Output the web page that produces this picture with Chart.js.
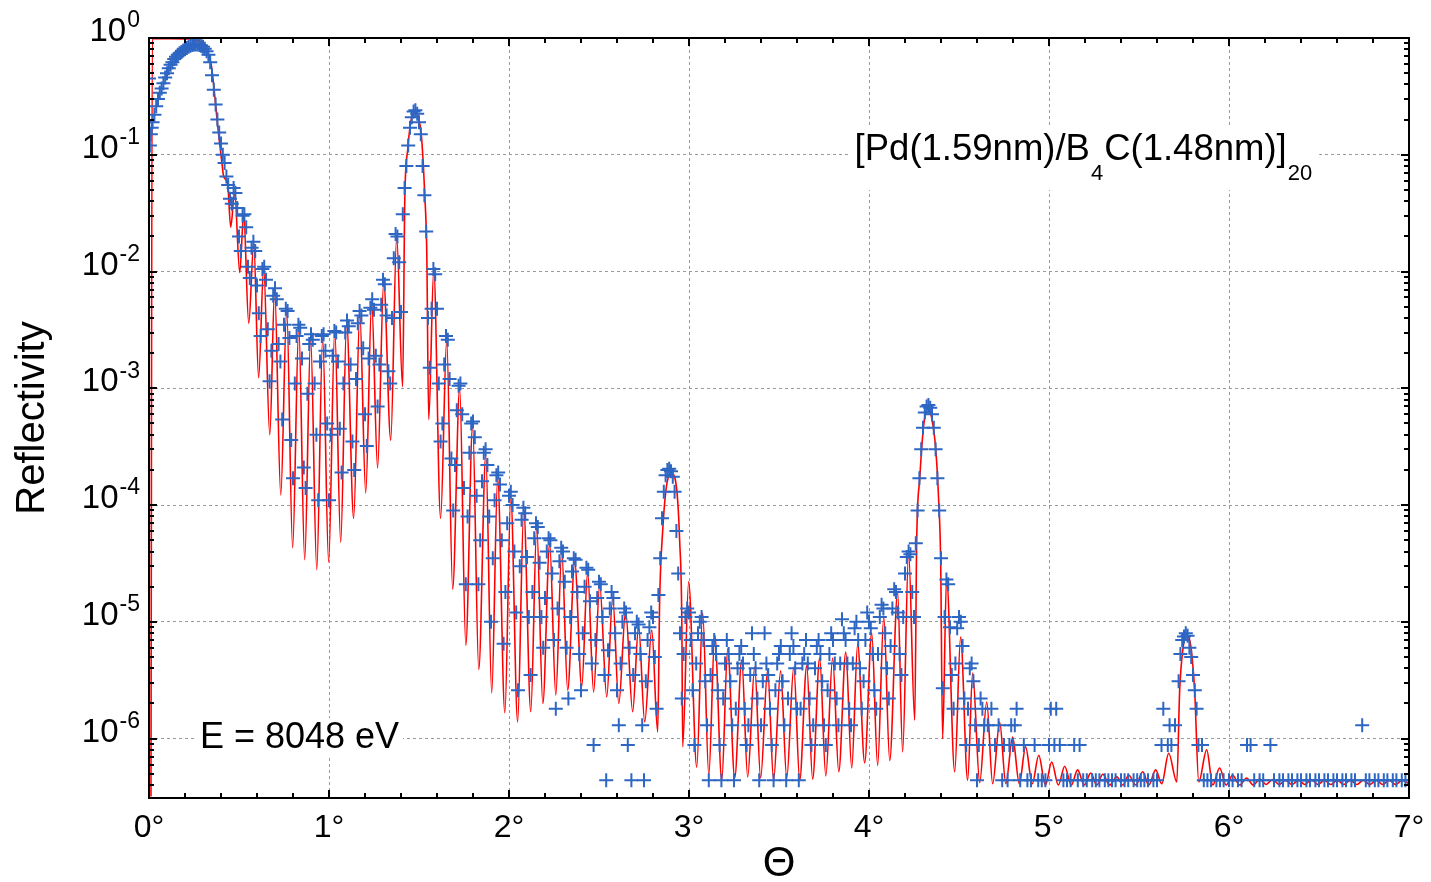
<!DOCTYPE html>
<html>
<head>
<meta charset="utf-8">
<title>Pd/B4C multilayer reflectivity</title>
<script src="https://cdn.jsdelivr.net/npm/chart.js@4.4.0/dist/chart.umd.min.js"></script>
<style>
  html, body { margin: 0; padding: 0; background: #fff; }
  #wrap { width: 1431px; height: 882px; position: relative; }
</style>
</head>
<body>
<div id="wrap"><canvas id="xrrChart"></canvas></div>
<script>
// simulated curve (red line), extrema of the fringes
const simTheta = [
  0.011, 0.018, 0.115, 0.224, 0.282, 0.309, 0.332, 0.348, 0.359, 0.370, 0.381, 0.392, 0.403,
  0.415, 0.437, 0.454, 0.476, 0.504, 0.526, 0.554, 0.582, 0.609, 0.637, 0.671, 0.698, 0.732, 0.765,
  0.798, 0.832, 0.865, 0.898, 0.932, 0.965, 0.998, 1.032, 1.065, 1.098, 1.137, 1.171, 1.204, 1.237,
  1.270, 1.304, 1.343, 1.376, 1.409, 1.421, 1.437, 1.459, 1.482, 1.498, 1.515, 1.532, 1.543, 1.554,
  1.582, 1.620, 1.654, 1.687, 1.726, 1.760, 1.798, 1.832, 1.871, 1.904, 1.937, 1.977, 2.010, 2.048,
  2.082, 2.121, 2.154, 2.188, 2.226, 2.260, 2.293, 2.326, 2.365, 2.404, 2.437, 2.470, 2.504, 2.543,
  2.576, 2.610, 2.648, 2.687, 2.720, 2.754, 2.793, 2.826, 2.837, 2.854, 2.876, 2.904, 2.932, 2.948,
  2.960, 2.965, 2.998, 3.043, 3.076, 3.110, 3.143, 3.182, 3.215, 3.254, 3.293, 3.326, 3.365, 3.398,
  3.437, 3.470, 3.509, 3.543, 3.582, 3.615, 3.654, 3.687, 3.726, 3.760, 3.798, 3.832, 3.871, 3.904,
  3.937, 3.976, 4.015, 4.048, 4.082, 4.115, 4.159, 4.187, 4.220, 4.254, 4.265, 4.282, 4.304, 4.326,
  4.348, 4.371, 4.387, 4.398, 4.409, 4.431, 4.476, 4.509, 4.548, 4.576, 4.615, 4.654, 4.687, 4.726,
  4.760, 4.798, 4.835, 4.870, 4.907, 4.943, 4.980, 5.015, 5.052, 5.087, 5.124, 5.159, 5.196, 5.232,
  5.265, 5.299, 5.337, 5.377, 5.410, 5.443, 5.482, 5.521, 5.554, 5.593, 5.626, 5.665, 5.710, 5.726,
  5.743, 5.765, 5.787, 5.809, 5.832, 5.876, 5.910, 5.948, 5.984, 6.020, 6.059, 6.098, 6.135, 6.170,
  6.206, 6.242, 6.278, 6.314, 6.350, 6.386, 6.422, 6.458, 6.494, 6.530, 6.566, 6.602, 6.638, 6.674,
  6.710, 6.746, 6.782, 6.818, 6.854, 6.890, 6.926, 6.962, 7.000
];
const simR = [
  3.2e-7, 0.985, 0.985, 0.98, 0.93, 0.84, 0.72, 0.56, 0.40, 0.27, 0.18, 0.127, 0.091,
  0.065, 0.056, 0.024, 0.048, 0.0098, 0.031, 0.0036, 0.0176, 0.00123, 0.0108, 4.0e-4, 0.0070, 1.22e-4, 0.0047,
  4.3e-5, 0.00336, 3.4e-5, 0.0027, 2.8e-5, 0.0027, 3.25e-5, 0.00317, 4.8e-5, 0.0037, 7.7e-5, 0.0044, 1.27e-4, 0.0055,
  2.08e-4, 0.0082, 3.6e-4, 0.0198, 0.00103, 0.041, 0.11, 0.207, 0.233, 0.207, 0.135, 0.045, 0.0153, 5.4e-4,
  0.0104, 7.7e-5, 0.0026, 1.9e-5, 0.00101, 6.3e-6, 4.85e-4, 3.9e-6, 2.7e-4, 2.46e-6, 1.7e-4, 1.66e-6, 1.17e-4, 1.39e-6,
  9.1e-5, 1.7e-6, 6.5e-5, 2.0e-6, 4.7e-5, 2.37e-6, 4.0e-5, 2.6e-6, 3.25e-5, 2.77e-6, 2.67e-5, 2.5e-6, 2.07e-5, 2.27e-6,
  1.63e-5, 2.0e-6, 1.24e-5, 1.7e-6, 9.2e-6, 1.39e-6, 8.5e-6, 1.14e-6, 1.54e-5, 6.1e-5, 1.49e-4, 1.85e-4, 1.35e-4, 5.0e-5,
  1.04e-5, 8.5e-7, 2.2e-5, 5.7e-7, 1.19e-5, 4.9e-7, 7.7e-6, 4.4e-7, 5.85e-6, 4.6e-7, 4.7e-6, 4.7e-7, 4.1e-6, 4.6e-7,
  3.86e-6, 4.4e-7, 3.8e-6, 4.6e-7, 4.1e-6, 4.4e-7, 4.2e-6, 4.5e-7, 4.9e-6, 4.8e-7, 4.9e-6, 5.2e-7, 5.5e-6, 5.6e-7,
  6.45e-6, 6.2e-7, 8.0e-6, 5.9e-7, 1.1e-5, 6.5e-7, 1.8e-5, 7.7e-7, 3.9e-5, 1.44e-6, 5.0e-5, 1.7e-4, 4.85e-4, 6.7e-4,
  5.6e-4, 2.97e-4, 1.1e-4, 3.4e-5, 1.0e-6, 2.4e-5, 5.2e-7, 7.4e-6, 4.4e-7, 3.64e-6, 4.2e-7, 2.06e-6, 4.1e-7, 1.38e-6,
  4.1e-7, 1.03e-6, 4.1e-7, 8.5e-7, 4.1e-7, 7.2e-7, 4.0e-7, 6.3e-7, 4.0e-7, 5.8e-7, 4.0e-7, 5.4e-7, 4.0e-7, 5.06e-7,
  4.0e-7, 4.95e-7, 4.0e-7, 4.7e-7, 4.0e-7, 4.85e-7, 4.0e-7, 5.2e-7, 4.0e-7, 5.4e-7, 4.1e-7, 7.5e-7, 4.25e-7, 2.6e-6,
  5.7e-6, 7.6e-6, 6.3e-6, 2.6e-6, 4.25e-7, 8.0e-7, 4.0e-7, 5.6e-7, 4.0e-7, 4.85e-7, 4.0e-7, 4.6e-7, 4.0e-7, 4.5e-7,
  4.05e-7, 4.45e-7, 4.05e-7, 4.4e-7, 4.05e-7, 4.4e-7, 4.05e-7, 4.45e-7, 4.05e-7, 4.4e-7, 4.05e-7, 4.4e-7, 4.05e-7, 4.4e-7,
  4.05e-7, 4.4e-7, 4.05e-7, 4.4e-7, 4.05e-7, 4.4e-7, 4.05e-7, 4.4e-7, 4.1e-7
];

// measured points (blue crosses)
const measTheta = [
  0, 0.005, 0.01, 0.015, 0.02, 0.03, 0.04, 0.05, 0.06, 0.07, 0.08, 0.09,
  0.10, 0.11, 0.12, 0.13, 0.14, 0.15, 0.16, 0.17, 0.18, 0.19,
  0.20, 0.21, 0.22, 0.23, 0.24, 0.25, 0.26, 0.27, 0.28, 0.29,
  0.30, 0.31, 0.32, 0.33, 0.34, 0.35, 0.36, 0.37, 0.38, 0.39, 0.40, 0.41,
  0.42, 0.43, 0.44, 0.45, 0.46, 0.47, 0.48, 0.49,
  0.50, 0.51, 0.52, 0.53, 0.54, 0.55, 0.56, 0.57, 0.58, 0.59,
  0.60, 0.61, 0.62, 0.63, 0.64, 0.65, 0.66, 0.67, 0.68, 0.69,
  0.70, 0.71, 0.72, 0.73, 0.74, 0.75, 0.76, 0.77, 0.78, 0.79,
  0.80, 0.81, 0.82, 0.83, 0.84, 0.85, 0.86, 0.87, 0.88, 0.89,
  0.90, 0.91, 0.92, 0.93, 0.94, 0.95, 0.96, 0.97, 0.98, 0.99,
  1.00, 1.01, 1.02, 1.03, 1.04, 1.05, 1.06, 1.07, 1.08, 1.09,
  1.10, 1.11, 1.12, 1.13, 1.14, 1.15, 1.16, 1.17, 1.18, 1.19,
  1.20, 1.21, 1.22, 1.23, 1.24, 1.25, 1.26, 1.27, 1.28, 1.29,
  1.30, 1.31, 1.32, 1.33, 1.34, 1.35, 1.36, 1.37, 1.38, 1.39,
  1.40, 1.41, 1.42, 1.43, 1.44, 1.45, 1.46, 1.47, 1.48, 1.49,
  1.50, 1.51, 1.52, 1.53, 1.54, 1.55, 1.56, 1.57, 1.58, 1.59,
  1.60, 1.61, 1.62, 1.63, 1.64, 1.65, 1.66, 1.67, 1.68, 1.69,
  1.70, 1.71, 1.72, 1.73, 1.74, 1.75, 1.76, 1.77, 1.78, 1.79,
  1.80, 1.81, 1.82, 1.83, 1.84, 1.85, 1.86, 1.87, 1.88, 1.89,
  1.90, 1.91, 1.92, 1.93, 1.94, 1.95, 1.96, 1.97, 1.98, 1.99,
  2.00, 2.01, 2.02, 2.03, 2.04, 2.05, 2.06, 2.07, 2.08, 2.09,
  2.10, 2.11, 2.12, 2.13, 2.14, 2.15, 2.16, 2.17, 2.18, 2.19,
  2.20, 2.21, 2.22, 2.23, 2.24, 2.25, 2.26, 2.27, 2.28, 2.29,
  2.30, 2.31, 2.32, 2.33, 2.34, 2.35, 2.36, 2.37, 2.38, 2.39,
  2.40, 2.41, 2.42, 2.43, 2.44, 2.45, 2.46, 2.47, 2.48, 2.49,
  2.50, 2.51, 2.52, 2.53, 2.54, 2.55, 2.56, 2.57, 2.58, 2.59,
  2.60, 2.61, 2.62, 2.63, 2.64, 2.65, 2.66, 2.67, 2.68, 2.69,
  2.70, 2.71, 2.72, 2.73, 2.74, 2.75, 2.76, 2.77, 2.78, 2.79,
  2.80, 2.81, 2.82, 2.83, 2.84, 2.85, 2.86, 2.87, 2.88, 2.89,
  2.90, 2.91, 2.92, 2.93, 2.94, 2.95, 2.96, 2.97, 2.98, 2.99,
  3.00, 3.01, 3.02, 3.03, 3.04, 3.05, 3.06, 3.07, 3.08, 3.09,
  3.10, 3.11, 3.12, 3.13, 3.14, 3.15, 3.16, 3.17, 3.18, 3.19,
  3.20, 3.21, 3.22, 3.23, 3.24, 3.25, 3.26, 3.27, 3.28, 3.29,
  3.30, 3.31, 3.32, 3.33, 3.34, 3.35, 3.36, 3.37, 3.38, 3.39,
  3.40, 3.41, 3.42, 3.43, 3.44, 3.45, 3.46, 3.47, 3.48, 3.49,
  3.50, 3.51, 3.52, 3.53, 3.54, 3.55, 3.56, 3.57, 3.58, 3.59,
  3.60, 3.61, 3.62, 3.63, 3.64, 3.65, 3.66, 3.67, 3.68, 3.69,
  3.70, 3.71, 3.72, 3.73, 3.74, 3.75, 3.76, 3.77, 3.78, 3.79,
  3.80, 3.81, 3.82, 3.83, 3.84, 3.85, 3.86, 3.87, 3.88, 3.89,
  3.90, 3.91, 3.92, 3.93, 3.94, 3.95, 3.96, 3.97, 3.98, 3.99,
  4.00, 4.01, 4.02, 4.03, 4.04, 4.05, 4.06, 4.07, 4.08, 4.09,
  4.10, 4.11, 4.12, 4.13, 4.14, 4.15, 4.16, 4.17, 4.18, 4.19,
  4.20, 4.21, 4.22, 4.23, 4.24, 4.25, 4.26, 4.27, 4.28, 4.29,
  4.30, 4.31, 4.32, 4.33, 4.34, 4.35, 4.36, 4.37, 4.38, 4.39,
  4.40, 4.41, 4.42, 4.43, 4.44, 4.45, 4.46, 4.47, 4.48, 4.49,
  4.50, 4.51, 4.52, 4.53, 4.54, 4.55, 4.56, 4.57, 4.58, 4.59,
  4.60, 4.61, 4.62, 4.63, 4.64,
  4.66, 4.68, 4.70, 4.72, 4.74, 4.75, 4.77, 4.78, 4.79, 4.80, 4.81, 4.82, 4.84, 4.86, 4.88,
  4.90, 4.92, 4.94, 4.96, 4.98, 5.00, 5.01, 5.03, 5.04, 5.06, 5.08, 5.10, 5.12, 5.14, 5.16,
  5.17, 5.19, 5.21, 5.24, 5.26, 5.28, 5.31, 5.33, 5.35, 5.37, 5.40, 5.42, 5.44, 5.47, 5.49,
  5.51, 5.53, 5.55, 5.58, 5.60, 5.625, 5.635, 5.66, 5.67, 5.68, 5.70, 5.72, 5.73, 5.74, 5.75,
  5.76, 5.77, 5.78, 5.79, 5.80, 5.81, 5.82, 5.83, 5.85, 5.86, 5.88, 5.90, 5.93, 5.95, 5.97,
  6.00, 6.02, 6.05, 6.07, 6.10, 6.12, 6.14, 6.17, 6.19, 6.23, 6.25, 6.28, 6.30, 6.33, 6.35,
  6.38, 6.40, 6.43, 6.45, 6.48, 6.50, 6.53, 6.55, 6.58, 6.60, 6.63, 6.65, 6.68, 6.70, 6.74,
  6.76, 6.78, 6.81, 6.83, 6.86, 6.88, 6.91, 6.93, 6.96, 6.98, 7.00
];
const measR = [
  0.45, 0.12, 0.15, 0.17, 0.19, 0.22, 0.26, 0.30, 0.34, 0.37, 0.41, 0.46,
  0.50, 0.55, 0.59, 0.62, 0.66, 0.69, 0.72, 0.74, 0.76, 0.78,
  0.80, 0.82, 0.84, 0.86, 0.87, 0.88, 0.88, 0.88, 0.87, 0.86,
  0.84, 0.81, 0.77, 0.72, 0.62, 0.48, 0.36, 0.27, 0.20, 0.155, 0.125, 0.10,
  0.085, 0.065, 0.055, 0.042, 0.038, 0.052, 0.047, 0.035,
  0.020, 0.015, 0.030, 0.031, 0.024, 0.011, 0.0088, 0.016, 0.018, 0.015,
  0.0076, 0.0044, 0.0028, 0.0105, 0.011, 0.0085, 0.0032, 0.00115, 0.0021, 0.0062,
  0.0072, 0.0058, 0.0024, 0.0017, 5.4e-4, 0.0035, 0.0048, 0.0046, 0.0027, 3.6e-4,
  1.7e-4, 0.0011, 0.0028, 0.0035, 0.0033, 0.0018, 2.1e-4, 1.4e-4, 9e-4, 0.0024,
  0.0029, 0.0026, 0.0011, 4e-4, 1.1e-4, 0.0017, 0.0028, 0.0029, 0.0021, 5e-4,
  1.1e-4, 4e-4, 0.0019, 0.0031, 0.0030, 0.0017, 4.5e-4, 1.9e-4, 0.0011, 0.0030,
  0.0038, 0.0034, 0.0016, 3.5e-4, 2.0e-4, 0.0012, 0.0036, 0.0046, 0.0042, 0.0022,
  6e-4, 3.2e-4, 0.0018, 0.0049, 0.0058, 0.0047, 0.0019, 7e-4, 0.0016, 0.0052,
  0.0085, 0.0078, 0.0042, 0.0014, 0.0011, 0.0040, 0.013, 0.021, 0.020, 0.012,
  0.0045, 0.031, 0.052, 0.080, 0.12, 0.17, 0.21, 0.235, 0.24, 0.225,
  0.19, 0.15, 0.08, 0.045, 0.022, 0.004, 0.0015, 0.0048, 0.0105, 0.0095,
  0.0048, 0.0011, 3.5e-4, 5e-4, 0.0016, 0.0028, 0.0026, 0.0012, 2.5e-4, 9e-5,
  2.2e-4, 6.5e-4, 0.00105, 0.0011, 6e-4, 1.4e-4, 2.1e-5, 8e-5, 2.8e-4, 5e-4,
  5.2e-4, 3.8e-4, 1.2e-4, 2.1e-5, 5e-5, 1.6e-4, 2.8e-4, 3e-4, 2.2e-4, 8e-5,
  1.0e-5, 3.5e-5, 1.1e-4, 1.8e-4, 1.9e-4, 1.5e-4, 5e-5, 6.5e-6, 1.8e-5, 7e-5,
  1.2e-4, 1.3e-4, 1.0e-4, 4e-5, 1.2e-5, 2.6e-6, 3e-5, 7.5e-5, 9.5e-5, 8.5e-5,
  3.6e-5, 1.1e-5, 3.5e-6, 1.8e-5, 5.2e-5, 7e-5, 6.5e-5, 3.2e-5, 1.1e-5, 6e-6,
  1.6e-5, 4e-5, 5.2e-5, 5e-5, 2.6e-5, 7e-6, 1.8e-6, 1.3e-5, 3.3e-5, 4.3e-5,
  4e-5, 2.2e-5, 6e-6, 2.2e-6, 1.1e-5, 2.7e-5, 3.5e-5, 3.4e-5, 1.8e-5, 5.3e-6,
  2.6e-6, 8e-6, 2.0e-5, 2.9e-5, 2.8e-5, 1.5e-5, 4.4e-6, 8.8e-7, 7e-6, 1.6e-5,
  2.2e-5, 2.1e-5, 1.1e-5, 3.5e-6, 4.4e-7, 5.7e-6, 1.3e-5, 1.8e-5, 1.6e-5, 8e-6,
  2.6e-6, 1.3e-6, 4.4e-6, 1.0e-5, 1.3e-5, 1.2e-5, 8.8e-7, 6e-6, 4.4e-7, 3.5e-6,
  8e-6, 1.0e-5, 9.5e-6, 5.3e-6, 1.3e-6, 4.4e-7, 3.1e-6, 7e-6, 9e-6, 1.2e-5,
  1.1e-5, 5e-6, 1.8e-6, 1.7e-5, 3.5e-5, 7.7e-5, 1.3e-4, 1.8e-4, 2.0e-4, 2.05e-4,
  1.95e-4, 1.75e-4, 1.3e-4, 6e-5, 2.6e-5, 8e-6, 2.2e-6, 5.3e-6, 1.1e-5, 1.3e-5,
  1.2e-5, 7e-6, 2.6e-6, 8.8e-7, 4.4e-6, 8e-6, 1.0e-5, 1.1e-5, 7e-6, 3.1e-6,
  1.3e-6, 4.4e-7, 3.5e-6, 6.2e-6, 7e-6, 5.3e-6, 2.6e-6, 8.8e-7, 4.4e-7, 2.2e-6,
  4.4e-6, 7e-6, 5.3e-6, 3.1e-6, 1.3e-6, 4.4e-7, 1.8e-6, 4.0e-6, 5.3e-6, 6.2e-6,
  4.4e-6, 1.8e-6, 8.8e-7, 1.3e-6, 3.5e-6, 8e-6, 5.3e-6, 4.0e-6, 2.2e-6, 4.4e-7,
  1.3e-6, 3.1e-6, 8e-6, 4.4e-6, 3.5e-6, 1.8e-6, 8.8e-7, 4.4e-7, 2.6e-6, 4.4e-6,
  5.3e-6, 6.2e-6, 3.1e-6, 1.3e-6, 4.4e-7, 2.2e-6, 5.3e-6, 8e-6, 6.2e-6, 4.0e-6,
  1.8e-6, 4.4e-7, 1.8e-6, 4.4e-6, 5.3e-6, 7e-6, 4.4e-6, 2.2e-6, 8.8e-7, 1.3e-6,
  4.0e-6, 6.2e-6, 7e-6, 5.3e-6, 3.1e-6, 1.3e-6, 8.8e-7, 2.6e-6, 5.3e-6, 8e-6,
  7e-6, 4.4e-6, 2.2e-6, 1.3e-6, 4.4e-6, 1.05e-5, 8e-6, 7e-6, 4.4e-6, 1.8e-6,
  1.3e-6, 4.4e-6, 8.8e-6, 1.0e-5, 7e-6, 4.0e-6, 1.8e-6, 3.1e-6, 7e-6, 1.2e-5,
  1.0e-5, 8.8e-6, 5.3e-6, 2.6e-6, 1.8e-6, 5.3e-6, 1.1e-5, 1.4e-5, 1.3e-5, 8e-6,
  4.0e-6, 2.2e-6, 6.2e-6, 1.3e-5, 1.9e-5, 1.8e-5, 1.2e-5, 5.3e-6, 3.5e-6, 1.1e-5,
  2.6e-5, 3.6e-5, 4.0e-5, 3.8e-5, 1.8e-5, 1.1e-5, 4.7e-5, 9e-5, 1.7e-4, 3.0e-4,
  4.6e-4, 6.2e-4, 7.0e-4, 7.2e-4, 6.8e-4, 6.0e-4, 4.6e-4, 3.0e-4, 1.7e-4, 9e-5,
  3.5e-5, 2.7e-6, 1.1e-5, 2.3e-5, 2.1e-5, 9e-6, 3.5e-6, 1.8e-6, 4.4e-6, 8.8e-6,
  1.1e-5, 1.0e-5, 6.2e-6, 2.2e-6, 8.8e-7, 1.8e-6, 4.0e-6, 4.4e-6, 3.1e-6, 1.3e-6,
  4.4e-7, 8.8e-7, 2.2e-6, 1.8e-6, 1.3e-6,
  1.3e-6, 1.8e-6, 8.8e-7, 1.3e-6, 4.4e-7, 8.8e-7, 4.4e-7, 8.8e-7, 1.3e-6, 8.8e-7, 1.3e-6, 1.8e-6, 4.4e-7, 8.8e-7, 4.4e-7,
  4.4e-7, 8.8e-7, 4.4e-7, 4.4e-7, 4.4e-7, 8.8e-7, 1.8e-6, 8.8e-7, 1.8e-6, 8.8e-7, 4.4e-7, 4.4e-7, 4.4e-7, 8.8e-7, 4.4e-7,
  8.8e-7, 4.4e-7, 4.4e-7, 4.4e-7, 4.4e-7, 4.4e-7, 4.4e-7, 4.4e-7, 4.4e-7, 4.4e-7, 4.4e-7, 4.4e-7, 4.4e-7, 4.4e-7, 4.4e-7,
  4.4e-7, 4.4e-7, 4.4e-7, 4.4e-7, 4.4e-7, 8.8e-7, 1.8e-6, 8.8e-7, 1.3e-6, 8.8e-7, 1.3e-6, 3.1e-6, 5.3e-6, 7e-6, 7.5e-6,
  8e-6, 7.6e-6, 6e-6, 5e-6, 3.5e-6, 2.6e-6, 1.8e-6, 8.8e-7, 8.8e-7, 4.4e-7, 4.4e-7, 4.4e-7, 4.4e-7, 4.4e-7, 4.4e-7,
  4.4e-7, 4.4e-7, 4.4e-7, 4.4e-7, 8.8e-7, 8.8e-7, 4.4e-7, 4.4e-7, 4.4e-7, 8.8e-7, 4.4e-7, 4.4e-7, 4.4e-7, 4.4e-7, 4.4e-7,
  4.4e-7, 4.4e-7, 4.4e-7, 4.4e-7, 4.4e-7, 4.4e-7, 4.4e-7, 4.4e-7, 4.4e-7, 4.4e-7, 4.4e-7, 4.4e-7, 4.4e-7, 4.4e-7, 1.3e-6,
  4.4e-7, 4.4e-7, 4.4e-7, 4.4e-7, 4.4e-7, 4.4e-7, 4.4e-7, 4.4e-7, 4.4e-7, 4.4e-7, 4.4e-7
];

// axes
const yDecades = [1, 1e-1, 1e-2, 1e-3, 1e-4, 1e-5, 1e-6];
const yExponents = ['0', '-1', '-2', '-3', '-4', '-5', '-6'];
const xTickLabels = ['0°', '1°', '2°', '3°', '4°', '5°', '6°', '7°'];
const sampleLabel = ['[Pd(1.59nm)/B', '4', 'C(1.48nm)]', '20'];
const energyLabel = 'E = 8048 eV';

const FONT = "'Liberation Sans', Arial, sans-serif";
Chart.defaults.font.family = FONT;
Chart.defaults.color = '#000';

const simPoints = simTheta.map((t, i) => ({ x: t, y: simR[i] }));
const measPoints = measTheta.map((t, i) => ({ x: t, y: measR[i] }));

// frame, inward ticks, 10^n labels and the two text labels
const decorPlugin = {
  id: 'decor',
  beforeDatasetsDraw(chart) {
    const { ctx, scales: { x, y } } = chart;
    ctx.save();
    // sample label with white background
    let lx = x.getPixelForValue(3.92), ly = y.getPixelForValue(0.09);
    let w = 0;
    sampleLabel.forEach((s, i) => {
      ctx.font = (i % 2 ? 22 : 36.5) + 'px ' + FONT;
      w += ctx.measureText(s).width + (i % 2 ? 2 : 0);
    });
    ctx.fillStyle = '#fff';
    ctx.fillRect(lx - 6, ly - 34, w + 12, 64);
    ctx.fillStyle = '#000';
    ctx.textAlign = 'left';
    ctx.textBaseline = 'alphabetic';
    let cx = lx;
    sampleLabel.forEach((s, i) => {
      const sub = i % 2 === 1;
      ctx.font = (sub ? 22 : 36.5) + 'px ' + FONT;
      if (sub) cx += 1;
      ctx.fillText(s, cx, sub ? ly + 20 : ly);
      cx += ctx.measureText(s).width + (sub ? 1 : 0);
    });
    // energy label
    ctx.font = '36px ' + FONT;
    const ex = x.getPixelForValue(0.283), ey = y.getPixelForValue(8.3e-7);
    const ew = ctx.measureText(energyLabel).width;
    ctx.fillStyle = '#fff';
    ctx.fillRect(ex - 4, ey - 30, ew + 8, 38);
    ctx.fillStyle = '#000';
    ctx.fillText(energyLabel, ex, ey);
    ctx.restore();
  },
  afterDraw(chart) {
    const { ctx, chartArea: a, scales: { x, y } } = chart;
    ctx.save();
    ctx.strokeStyle = '#000';
    ctx.lineWidth = 2;
    ctx.beginPath();
    // x ticks every 0.2 deg
    for (let i = 0; i <= 35; i++) {
      const px = Math.round(x.getPixelForValue(i / 5));
      const len = i % 5 === 0 ? 8 : 5;
      ctx.moveTo(px, a.bottom); ctx.lineTo(px, a.bottom - len);
      ctx.moveTo(px, a.top); ctx.lineTo(px, a.top + len);
    }
    // log ticks
    for (let d = -7; d <= 0; d++) {
      for (let m = 1; m <= 9; m++) {
        const v = m * Math.pow(10, d);
        if (v < y.min || v > y.max) continue;
        const py = Math.round(y.getPixelForValue(v));
        const len = m === 1 ? 8 : 5;
        ctx.moveTo(a.left, py); ctx.lineTo(a.left + len, py);
        ctx.moveTo(a.right, py); ctx.lineTo(a.right - len, py);
      }
    }
    ctx.stroke();
    ctx.strokeRect(a.left, a.top, a.right - a.left, a.bottom - a.top);

    // y tick labels 10^n
    ctx.fillStyle = '#000';
    ctx.textBaseline = 'middle';
    const right = a.left - 9;
    yDecades.forEach((v, i) => {
      const py = y.getPixelForValue(v);
      ctx.font = '23px ' + FONT;
      const ew = ctx.measureText(yExponents[i]).width;
      ctx.textAlign = 'left';
      ctx.fillText(yExponents[i], right - ew, py - 17);
      ctx.font = '33px ' + FONT;
      ctx.textAlign = 'right';
      ctx.fillText('10', right - ew - 1, py - 6);
    });
    ctx.restore();
  }
};

const xrrChart = new Chart(document.getElementById('xrrChart'), {
  type: 'line',
  data: {
    datasets: [
      {
        label: 'measured',
        type: 'scatter',
        data: measPoints,
        pointStyle: 'cross',
        pointRadius: 7,
        pointBorderWidth: 2,
        borderColor: '#2d66c3',
        backgroundColor: '#2d66c3',
        showLine: false,
        order: 1
      },
      {
        label: 'fit',
        type: 'line',
        data: simPoints,
        borderColor: '#ff0000',
        borderWidth: 1.6,
        pointRadius: 0,
        cubicInterpolationMode: 'monotone',
        fill: false,
        order: 2
      }
    ]
  },
  options: {
    responsive: true,
    maintainAspectRatio: false,
    animation: false,
    events: [],
    layout: { padding: { left: 0, right: 22, top: 38, bottom: 0 } },
    plugins: {
      legend: { display: false },
      tooltip: { enabled: false }
    },
    scales: {
      x: {
        type: 'linear',
        min: 0,
        max: 7,
        afterFit: (s) => { s.height = 84; s.paddingLeft = 0; s.paddingRight = 0; },
        ticks: {
          stepSize: 1,
          autoSkip: false,
          maxRotation: 0,
          padding: 11,
          font: { size: 32 },
          color: '#000',
          callback: (v) => xTickLabels[v]
        },
        grid: { color: '#9a9a9a', lineWidth: 1, drawTicks: false },
        border: { display: false, dash: [3, 3] },
        title: {
          display: true,
          text: 'Θ',
          font: { size: 42, lineHeight: 1 },
          padding: { top: 0, bottom: -3 },
          color: '#000'
        }
      },
      y: {
        type: 'logarithmic',
        min: 3.1e-7,
        max: 1,
        afterFit: (s) => { s.width = 149; },
        afterBuildTicks: (s) => { s.ticks = yDecades.map((v) => ({ value: v })); },
        ticks: { display: false },
        grid: { color: '#9a9a9a', lineWidth: 1, drawTicks: false },
        border: { display: false, dash: [3, 3] },
        title: {
          display: true,
          text: 'Reflectivity',
          font: { size: 40, lineHeight: 1 },
          padding: { top: 13, bottom: 0 },
          color: '#000'
        }
      }
    }
  },
  plugins: [decorPlugin]
});
</script>
</body>
</html>
